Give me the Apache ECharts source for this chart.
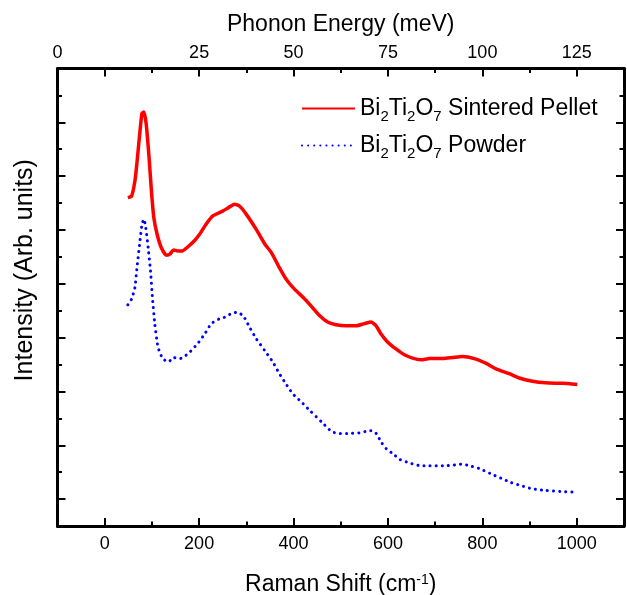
<!DOCTYPE html>
<html>
<head>
<meta charset="utf-8">
<script src="https://cdn.jsdelivr.net/npm/echarts@6/dist/echarts.min.js"></script>
<style>
  html, body { margin: 0; padding: 0; background: #fff; }
  #chart { width: 627px; height: 595px; }
</style>
</head>
<body>
<div id="chart"></div>
<script>
// Raman shift (cm-1) and intensity (arb. units, stacked)
const pelletShift = [49, 57, 64, 68, 74, 79, 83, 88, 94, 99, 104, 111, 120, 131, 138, 146, 155, 164, 174, 190, 201, 215, 229, 250, 261, 275, 286, 300, 321, 339, 353, 370, 384, 402, 420, 437, 455, 472, 490, 511, 533, 550, 564, 575, 585, 599, 617, 635, 652, 670, 688, 716, 737, 758, 783, 808, 829, 857, 878, 906, 934, 970, 1001]
const pelletIntensity = [6.60, 6.63, 6.91, 7.22, 7.77, 8.17, 8.19, 7.96, 7.34, 6.72, 6.23, 5.92, 5.67, 5.53, 5.55, 5.63, 5.61, 5.61, 5.67, 5.80, 5.92, 6.11, 6.26, 6.35, 6.41, 6.48, 6.44, 6.29, 6.01, 5.74, 5.58, 5.30, 5.09, 4.90, 4.75, 4.59, 4.41, 4.29, 4.24, 4.22, 4.22, 4.26, 4.29, 4.22, 4.07, 3.92, 3.79, 3.68, 3.62, 3.59, 3.61, 3.61, 3.63, 3.65, 3.61, 3.52, 3.42, 3.33, 3.25, 3.19, 3.16, 3.15, 3.13]

const powderShift = [49, 57, 64, 68, 74, 79, 83, 87, 92, 97, 101, 106, 113, 123, 135, 146, 159, 169, 180, 197, 212, 226, 243, 258, 268, 279, 293, 307, 321, 339, 356, 370, 381, 398, 416, 434, 448, 462, 480, 494, 515, 540, 554, 564, 575, 585, 596, 614, 624, 650, 669, 688, 723, 737, 758, 772, 793, 818, 839, 860, 882, 906, 934, 970, 994]
const powderIntensity = [4.61, 4.72, 4.93, 5.27, 5.74, 6.11, 6.20, 6.04, 5.67, 5.24, 4.75, 4.26, 3.82, 3.61, 3.55, 3.63, 3.61, 3.65, 3.73, 3.89, 4.07, 4.26, 4.35, 4.39, 4.45, 4.47, 4.41, 4.19, 3.98, 3.76, 3.55, 3.33, 3.18, 2.96, 2.81, 2.65, 2.53, 2.41, 2.26, 2.22, 2.22, 2.23, 2.26, 2.27, 2.22, 2.07, 1.94, 1.82, 1.74, 1.66, 1.62, 1.62, 1.62, 1.63, 1.65, 1.62, 1.57, 1.47, 1.39, 1.31, 1.25, 1.19, 1.16, 1.14, 1.13]

// bottom axis ticks (cm-1)
const shiftLabels = [0, 200, 400, 600, 800, 1000]
const shiftMinor = [100, 300, 500, 700, 900]
// top axis labels (meV) and where they sit on the cm-1 scale
const energyTickAt = [-100, 200, 400, 600, 800, 1000]
const energyLabels = ['0', '25', '50', '75', '100', '125']
// left/right axis ticks (no labels)
const intensityMajor = [1, 2, 3, 4, 5, 6, 7, 8]
const intensityMinor = [1.5, 2.5, 3.5, 4.5, 5.5, 6.5, 7.5, 8.5]

const X_MIN = -100, X_MAX = 1100
const Y_MIN = 0.5, Y_MAX = 9

const font = 'Liberation Sans, Arial, sans-serif'
const black = '#000'

function pairs(xs, ys) {
  return xs.map((x, i) => [x, ys[i]])
}

function xAxisDef(position, opts) {
  return Object.assign({
    type: 'value',
    position: position,
    min: X_MIN,
    max: X_MAX,
    axisLine: { show: false, onZero: false },
    axisLabel: { show: false },
    splitLine: { show: false },
    axisTick: { show: false }
  }, opts)
}

function yAxisDef(position, opts) {
  return Object.assign({
    type: 'value',
    position: position,
    min: Y_MIN,
    max: Y_MAX,
    axisLine: { show: false, onZero: false },
    axisLabel: { show: false },
    splitLine: { show: false },
    axisTick: { show: false }
  }, opts)
}

const frameLine = { show: true, onZero: false, lineStyle: { color: black, width: 3 } }
const majorTick = (vals) => ({ show: true, inside: true, length: 8, customValues: vals, lineStyle: { color: black, width: 2 } })
const minorTick = (vals) => ({ show: true, inside: true, length: 4.5, customValues: vals, lineStyle: { color: black, width: 2 } })

const chart = echarts.init(document.getElementById('chart'))

const option = {
  backgroundColor: '#fff',
  animation: false,
  textStyle: { fontFamily: font },
  grid: { left: 57.5, right: 3, top: 68.5, bottom: 69, containLabel: false, outerBoundsMode: 'none' },
  legend: {
    left: 301,
    top: 97,
    padding: 0,
    orient: 'vertical',
    itemWidth: 53,
    itemHeight: 14,
    itemGap: 10,
    itemStyle: { opacity: 0 },
    data: ['pellet', 'powder'],
    formatter: function (name) {
      return name === 'pellet'
        ? 'Bi{sub|2}Ti{sub|2}O{sub|7} Sintered Pellet'
        : 'Bi{sub|2}Ti{sub|2}O{sub|7} Powder'
    },
    textStyle: {
      fontFamily: font,
      fontSize: 23,
      color: black,
      rich: {
        sub: { fontFamily: font, fontSize: 15, color: black, padding: [16, 0, 0, 0] }
      }
    }
  },
  xAxis: [
    xAxisDef('bottom', {
      name: 'Raman Shift (cm{sup|-1})',
      nameLocation: 'middle',
      nameGap: 47,
      nameTextStyle: {
        fontFamily: font, fontSize: 23, color: black,
        rich: { sup: { fontFamily: font, fontSize: 14, color: black, padding: [0, 0, 10, 0] } }
      },
      axisLine: frameLine,
      axisTick: majorTick(shiftLabels),
      axisLabel: {
        show: true, customValues: shiftLabels, margin: 9, fontSize: 18, color: black, fontFamily: font,
        formatter: (v) => String(v)
      }
    }),
    xAxisDef('bottom', { axisTick: minorTick(shiftMinor) }),
    xAxisDef('top', {
      name: 'Phonon Energy (meV)',
      nameLocation: 'middle',
      nameGap: 32,
      nameTextStyle: { fontFamily: font, fontSize: 23, color: black },
      axisLine: frameLine,
      axisTick: majorTick(shiftLabels),
      axisLabel: {
        show: true,
        customValues: energyTickAt,
        margin: 6,
        fontSize: 18,
        color: black,
        fontFamily: font,
        formatter: function (v) {
          const i = energyTickAt.indexOf(v)
          return i >= 0 ? energyLabels[i] : ''
        }
      }
    }),
    xAxisDef('top', { axisTick: minorTick(shiftMinor) })
  ],
  yAxis: [
    yAxisDef('left', {
      name: 'Intensity (Arb. units)',
      nameLocation: 'middle',
      nameGap: 20,
      nameTextStyle: { fontFamily: font, fontSize: 25, color: black, padding: [0, 0, 0, 54] },
      axisLine: frameLine,
      axisTick: majorTick(intensityMajor)
    }),
    yAxisDef('left', { axisTick: minorTick(intensityMinor) }),
    yAxisDef('right', {
      axisLine: frameLine,
      axisTick: majorTick(intensityMajor)
    }),
    yAxisDef('right', { axisTick: minorTick(intensityMinor) })
  ],
  series: [
    {
      name: 'pellet',
      type: 'line',
      xAxisIndex: 0,
      yAxisIndex: 0,
      data: pairs(pelletShift, pelletIntensity),
      smooth: 0.2,
      symbol: 'none',
      itemStyle: { color: '#ff0000' },
      lineStyle: { color: '#ff0000', width: 3.5 }
    },
    {
      name: 'powder',
      type: 'line',
      xAxisIndex: 0,
      yAxisIndex: 0,
      data: pairs(powderShift, powderIntensity),
      smooth: 0.2,
      symbol: 'none',
      itemStyle: { color: '#0000ff' },
      lineStyle: { color: '#0000ff', width: 3, type: [0.1, 6], cap: 'round' }
    }
  ]
}

chart.setOption(option)
</script>
</body>
</html>
